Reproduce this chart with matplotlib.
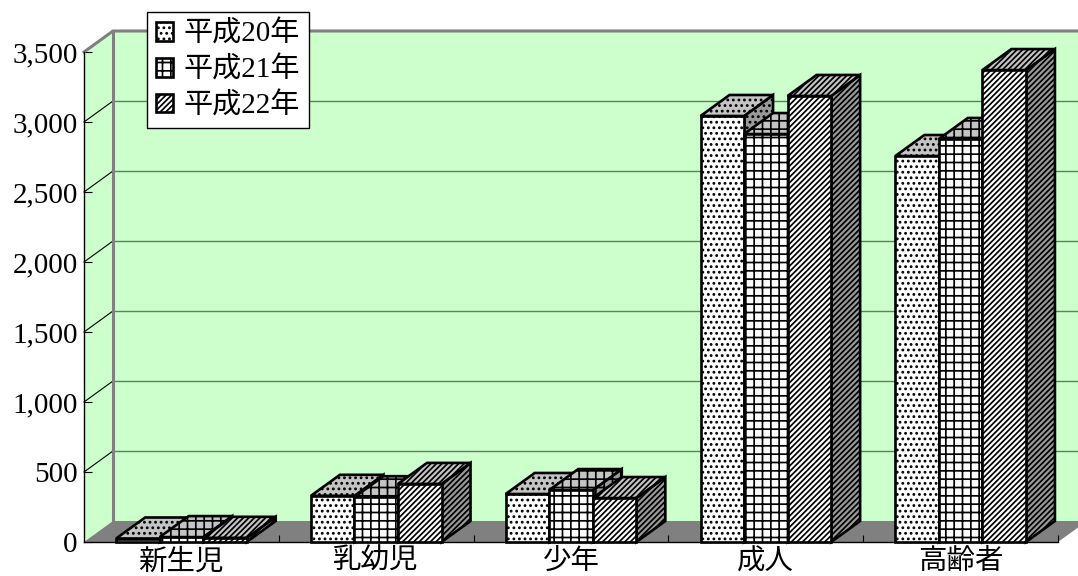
import matplotlib
matplotlib.use("Agg")
import matplotlib.pyplot as plt
from matplotlib.patches import Polygon, Patch

plt.rcParams['font.family'] = ['Liberation Serif', 'Noto Sans CJK JP']
plt.rcParams['hatch.linewidth'] = 1.25

categories = ['新生児', '乳幼児', '少年', '成人', '高齢者']
series_names = ['平成20年', '平成21年', '平成22年']
h20 = [25, 330, 343, 3043, 2757]
h21 = [35, 320, 371, 2914, 2879]
h22 = [30, 415, 314, 3186, 3371]
y_ticks = [0, 500, 1000, 1500, 2000, 2500, 3000, 3500]
y_labels = ['0', '500', '1,000', '1,500', '2,000', '2,500', '3,000', '3,500']

patterns = ['...', '++', '//////']
depth_x = 29 / 195
depth_y = 150
bar_w = 0.2235
start = 0.165

fig = plt.figure(figsize=(10.78, 5.76), dpi=100)
ax = fig.add_axes([84 / 1078, 34 / 576, 974 / 1078, 490 / 576])
ax.set_xlim(0, 5)
ax.set_ylim(0, 3500)
ax.patch.set_visible(False)

green = '#CCFFCC'
gray = '#808080'
ymax = y_ticks[-1]

# walls and floor
ax.add_patch(Polygon([(0, 0), (depth_x, depth_y), (depth_x, ymax + depth_y), (0, ymax)],
                     facecolor=green, edgecolor='none', clip_on=False, zorder=1))
ax.add_patch(Polygon([(depth_x, depth_y), (5 + depth_x, depth_y), (5 + depth_x, ymax + depth_y), (depth_x, ymax + depth_y)],
                     facecolor=green, edgecolor='none', clip_on=False, zorder=1))
ax.add_patch(Polygon([(0, 0), (5, 0), (5 + depth_x, depth_y), (depth_x, depth_y)],
                     facecolor=gray, edgecolor='none', clip_on=False, zorder=1))

# gridlines
for v in y_ticks[1:-1]:
    ax.plot([depth_x, 5 + depth_x], [v + depth_y, v + depth_y], color='#5F7F5F', lw=1.0, clip_on=False, zorder=2)
    ax.plot([0, depth_x], [v, v + depth_y], color='black', lw=0.8, clip_on=False, zorder=2)
ax.plot([0, depth_x, 5 + depth_x], [ymax, ymax + depth_y, ymax + depth_y], color=gray, lw=2.2, clip_on=False, zorder=2)
ax.plot([depth_x, depth_x], [depth_y, ymax + depth_y], color=gray, lw=2.2, clip_on=False, zorder=2)

# bars, left to right so that later ones sit over earlier sides
z = 3
for i in range(len(categories)):
    for j, values in enumerate([h20, h21, h22]):
        x0 = i + start + j * bar_w
        x1 = x0 + bar_w
        v = values[i]
        side = [(x1, 0), (x1 + depth_x, depth_y), (x1 + depth_x, v + depth_y), (x1, v)]
        top = [(x0, v), (x1, v), (x1 + depth_x, v + depth_y), (x0 + depth_x, v + depth_y)]
        front = [(x0, 0), (x1, 0), (x1, v), (x0, v)]
        for pts, fc in [(side, '#9A9A9A'), (top, '#C4C4C4'), (front, 'white')]:
            ax.add_patch(Polygon(pts, closed=True, facecolor=fc, edgecolor='black',
                                 hatch=patterns[j], lw=1.9, clip_on=False, zorder=z, joinstyle='miter'))
            z += 1

for s in ['top', 'right']:
    ax.spines[s].set_visible(False)
for s in ['left', 'bottom']:
    ax.spines[s].set_linewidth(1.0)
    ax.spines[s].set_zorder(2.5)

ax.set_yticks(y_ticks)
ax.set_yticklabels(y_labels, fontsize=21)
ax.tick_params(axis='y', direction='in', length=6, width=0.8, pad=4.5, color='black')
ax.set_xticks([i + 0.5 for i in range(len(categories))])
ax.set_xticklabels(categories, fontsize=20.5)
ax.set_xticks([1, 2, 3, 4, 5], minor=True)
ax.tick_params(axis='x', which='major', length=0, pad=5)
ax.tick_params(axis='x', which='minor', direction='in', length=5, width=0.8)

handles = [Patch(facecolor='white', edgecolor='black', hatch=p, lw=1.9) for p in patterns]
leg = ax.legend(handles, series_names, loc='upper left', bbox_to_anchor=(147 / 1078, 1 - 12 / 576),
                bbox_transform=fig.transFigure, fontsize=21, frameon=True, fancybox=False,
                framealpha=1, edgecolor='black', handlelength=0.6, handleheight=0.6,
                handletextpad=0.36, labelspacing=0.3, borderpad=0.3, borderaxespad=0)
leg.get_frame().set_linewidth(1.0)
leg.set_zorder(1000)

fig.savefig('out.png', dpi=100)
